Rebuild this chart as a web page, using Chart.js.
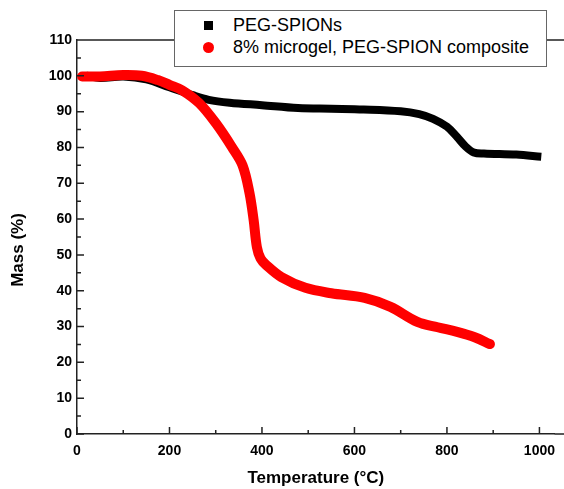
<!DOCTYPE html>
<html>
<head>
<meta charset="utf-8">
<script src="https://cdn.jsdelivr.net/npm/chart.js@4/dist/chart.umd.min.js"></script>
<style>
  html, body { margin: 0; padding: 0; background: #fff; overflow: hidden; }
  #wrap { position: relative; width: 564px; height: 489px; }
  #legend {
    position: absolute; left: 174px; top: 10px; width: 371px; height: 55px;
    border: 1px solid #666; background: #fff;
    font-family: "Liberation Sans", Arial, sans-serif; font-size: 18px; color: #000;
  }
  .row { position: absolute; left: 0; height: 22px; line-height: 22px; white-space: nowrap; }
  .mk { position: absolute; }
  .txt { position: absolute; left: 58px; }
</style>
</head>
<body>
<div id="wrap">
  <canvas id="tga" width="564" height="489"></canvas>
  <div id="legend"></div>
</div>
<script>
// series names
const seriesNames = ['PEG-SPIONs', '8% microgel, PEG-SPION composite'];

// PEG-SPIONs (black)
const pegTemp = [20, 50, 100, 150, 200, 250, 285, 330, 400, 478, 550, 620, 700, 740, 770, 800, 822, 840, 858, 880, 950, 1004];
const pegMass = [100, 99.4, 99.8, 99.0, 96.8, 94.6, 93.3, 92.5, 91.8, 91.0, 90.8, 90.6, 90.1, 89.3, 88.0, 85.8, 82.9, 80.3, 78.6, 78.3, 78.0, 77.4];

// composite (red)
const compTemp = [11, 50, 100, 140, 175, 200, 227, 264, 300, 335, 358, 373, 382, 389, 397, 409, 442, 494, 550, 622, 678, 736, 780, 822, 860, 893];
const compMass = [99.8, 99.8, 100.2, 100.0, 98.8, 97.5, 96.0, 92.4, 86.8, 80.1, 75.0, 67.3, 59.7, 52.2, 49.0, 47.2, 43.8, 40.8, 39.3, 38.0, 35.5, 31.3, 29.8, 28.5, 27.0, 25.1];

// axes
const xTicks = [0, 200, 400, 600, 800, 1000];
const xMinor = [100, 300, 500, 700, 900];
const yTicks = [0, 10, 20, 30, 40, 50, 60, 70, 80, 90, 100, 110];
const yMinor = [5, 15, 25, 35, 45, 55, 65, 75, 85, 95, 105];

const axisColor = '#222';
const FONT = '"Liberation Sans", Arial, sans-serif';

function toPoints(xs, ys) {
  return xs.map((x, i) => ({ x: x, y: ys[i] }));
}

// ticks pointing inward + top frame line + y title
const framePlugin = {
  id: 'frame',
  afterDraw(chart) {
    const ctx = chart.ctx;
    const area = chart.chartArea;
    const xs = chart.scales.x;
    const ys = chart.scales.y;
    ctx.save();
    ctx.strokeStyle = axisColor;
    ctx.lineWidth = 1.5;
    ctx.beginPath();
    ctx.moveTo(area.left, area.top);
    ctx.lineTo(564, area.top);
    ctx.moveTo(area.right, area.bottom);
    ctx.lineTo(564, area.bottom);
    xTicks.forEach(v => {
      const px = xs.getPixelForValue(v);
      ctx.moveTo(px, area.bottom);
      ctx.lineTo(px, area.bottom - 7);
    });
    xMinor.forEach(v => {
      const px = xs.getPixelForValue(v);
      ctx.moveTo(px, area.bottom);
      ctx.lineTo(px, area.bottom - 4);
    });
    yTicks.forEach(v => {
      const py = ys.getPixelForValue(v);
      ctx.moveTo(area.left, py);
      ctx.lineTo(area.left + 7, py);
    });
    yMinor.forEach(v => {
      const py = ys.getPixelForValue(v);
      ctx.moveTo(area.left, py);
      ctx.lineTo(area.left + 4, py);
    });
    ctx.stroke();

    ctx.fillStyle = '#000';
    ctx.font = 'bold 17px ' + FONT;
    ctx.textAlign = 'center';
    ctx.textBaseline = 'middle';
    ctx.translate(18, 250);
    ctx.rotate(-Math.PI / 2);
    ctx.fillText('Mass (%)', 0, 0);
    ctx.restore();
  }
};

const ctx = document.getElementById('tga').getContext('2d');
new Chart(ctx, {
  type: 'line',
  data: {
    datasets: [{
      label: seriesNames[0],
      data: toPoints(pegTemp, pegMass),
      borderColor: '#000',
      backgroundColor: '#000',
      borderWidth: 8,
      borderCapStyle: 'butt',
      borderJoinStyle: 'round',
      pointRadius: 0,
      tension: 0.35,
      order: 2
    }, {
      label: seriesNames[1],
      data: toPoints(compTemp, compMass),
      borderColor: '#ff0000',
      backgroundColor: '#ff0000',
      borderWidth: 10,
      borderCapStyle: 'round',
      borderJoinStyle: 'round',
      pointRadius: 0,
      tension: 0.35,
      order: 1
    }]
  },
  options: {
    responsive: false,
    animation: false,
    layout: { padding: { top: 40, right: 0, left: 0, bottom: 0 } },
    plugins: {
      legend: { display: false },
      tooltip: { enabled: false }
    },
    scales: {
      x: {
        type: 'linear',
        min: 0,
        max: 1033,
        grid: { display: false, drawTicks: false },
        border: { display: true, color: axisColor, width: 1.5 },
        afterBuildTicks(scale) { scale.ticks = xTicks.map(v => ({ value: v })); },
        ticks: {
          maxRotation: 0,
          autoSkip: false,
          padding: 9,
          color: '#000',
          font: { family: FONT, size: 14, weight: 'bold' },
          callback: v => String(v)
        },
        title: {
          display: true,
          text: 'Temperature (°C)',
          color: '#000',
          padding: { top: 0, bottom: 0 },
          font: { family: FONT, size: 17, weight: 'bold' }
        },
        afterFit(scale) { scale.height = 55; }
      },
      y: {
        min: 0,
        max: 110,
        grid: { display: false, drawTicks: false },
        border: { display: true, color: axisColor, width: 1.5 },
        afterBuildTicks(scale) { scale.ticks = yTicks.map(v => ({ value: v })); },
        ticks: {
          autoSkip: false,
          padding: 5,
          color: '#000',
          font: { family: FONT, size: 14, weight: 'bold' }
        },
        afterFit(scale) { scale.width = 77; }
      }
    }
  },
  plugins: [framePlugin]
});

// legend box
const legendColors = ['#000', '#ff0000'];
const legend = document.getElementById('legend');
seriesNames.forEach((name, i) => {
  const marker = i === 0
    ? '<span class="mk" style="left:29px;top:7px;width:9px;height:9px;background:' + legendColors[i] + '"></span>'
    : '<span class="mk" style="left:28px;top:6px;width:11px;height:11px;border-radius:50%;background:' + legendColors[i] + '"></span>';
  legend.innerHTML += '<div class="row" style="top:' + (3 + i * 22) + 'px;width:100%">' + marker +
    '<span class="txt">' + name + '</span></div>';
});
</script>
</body>
</html>
